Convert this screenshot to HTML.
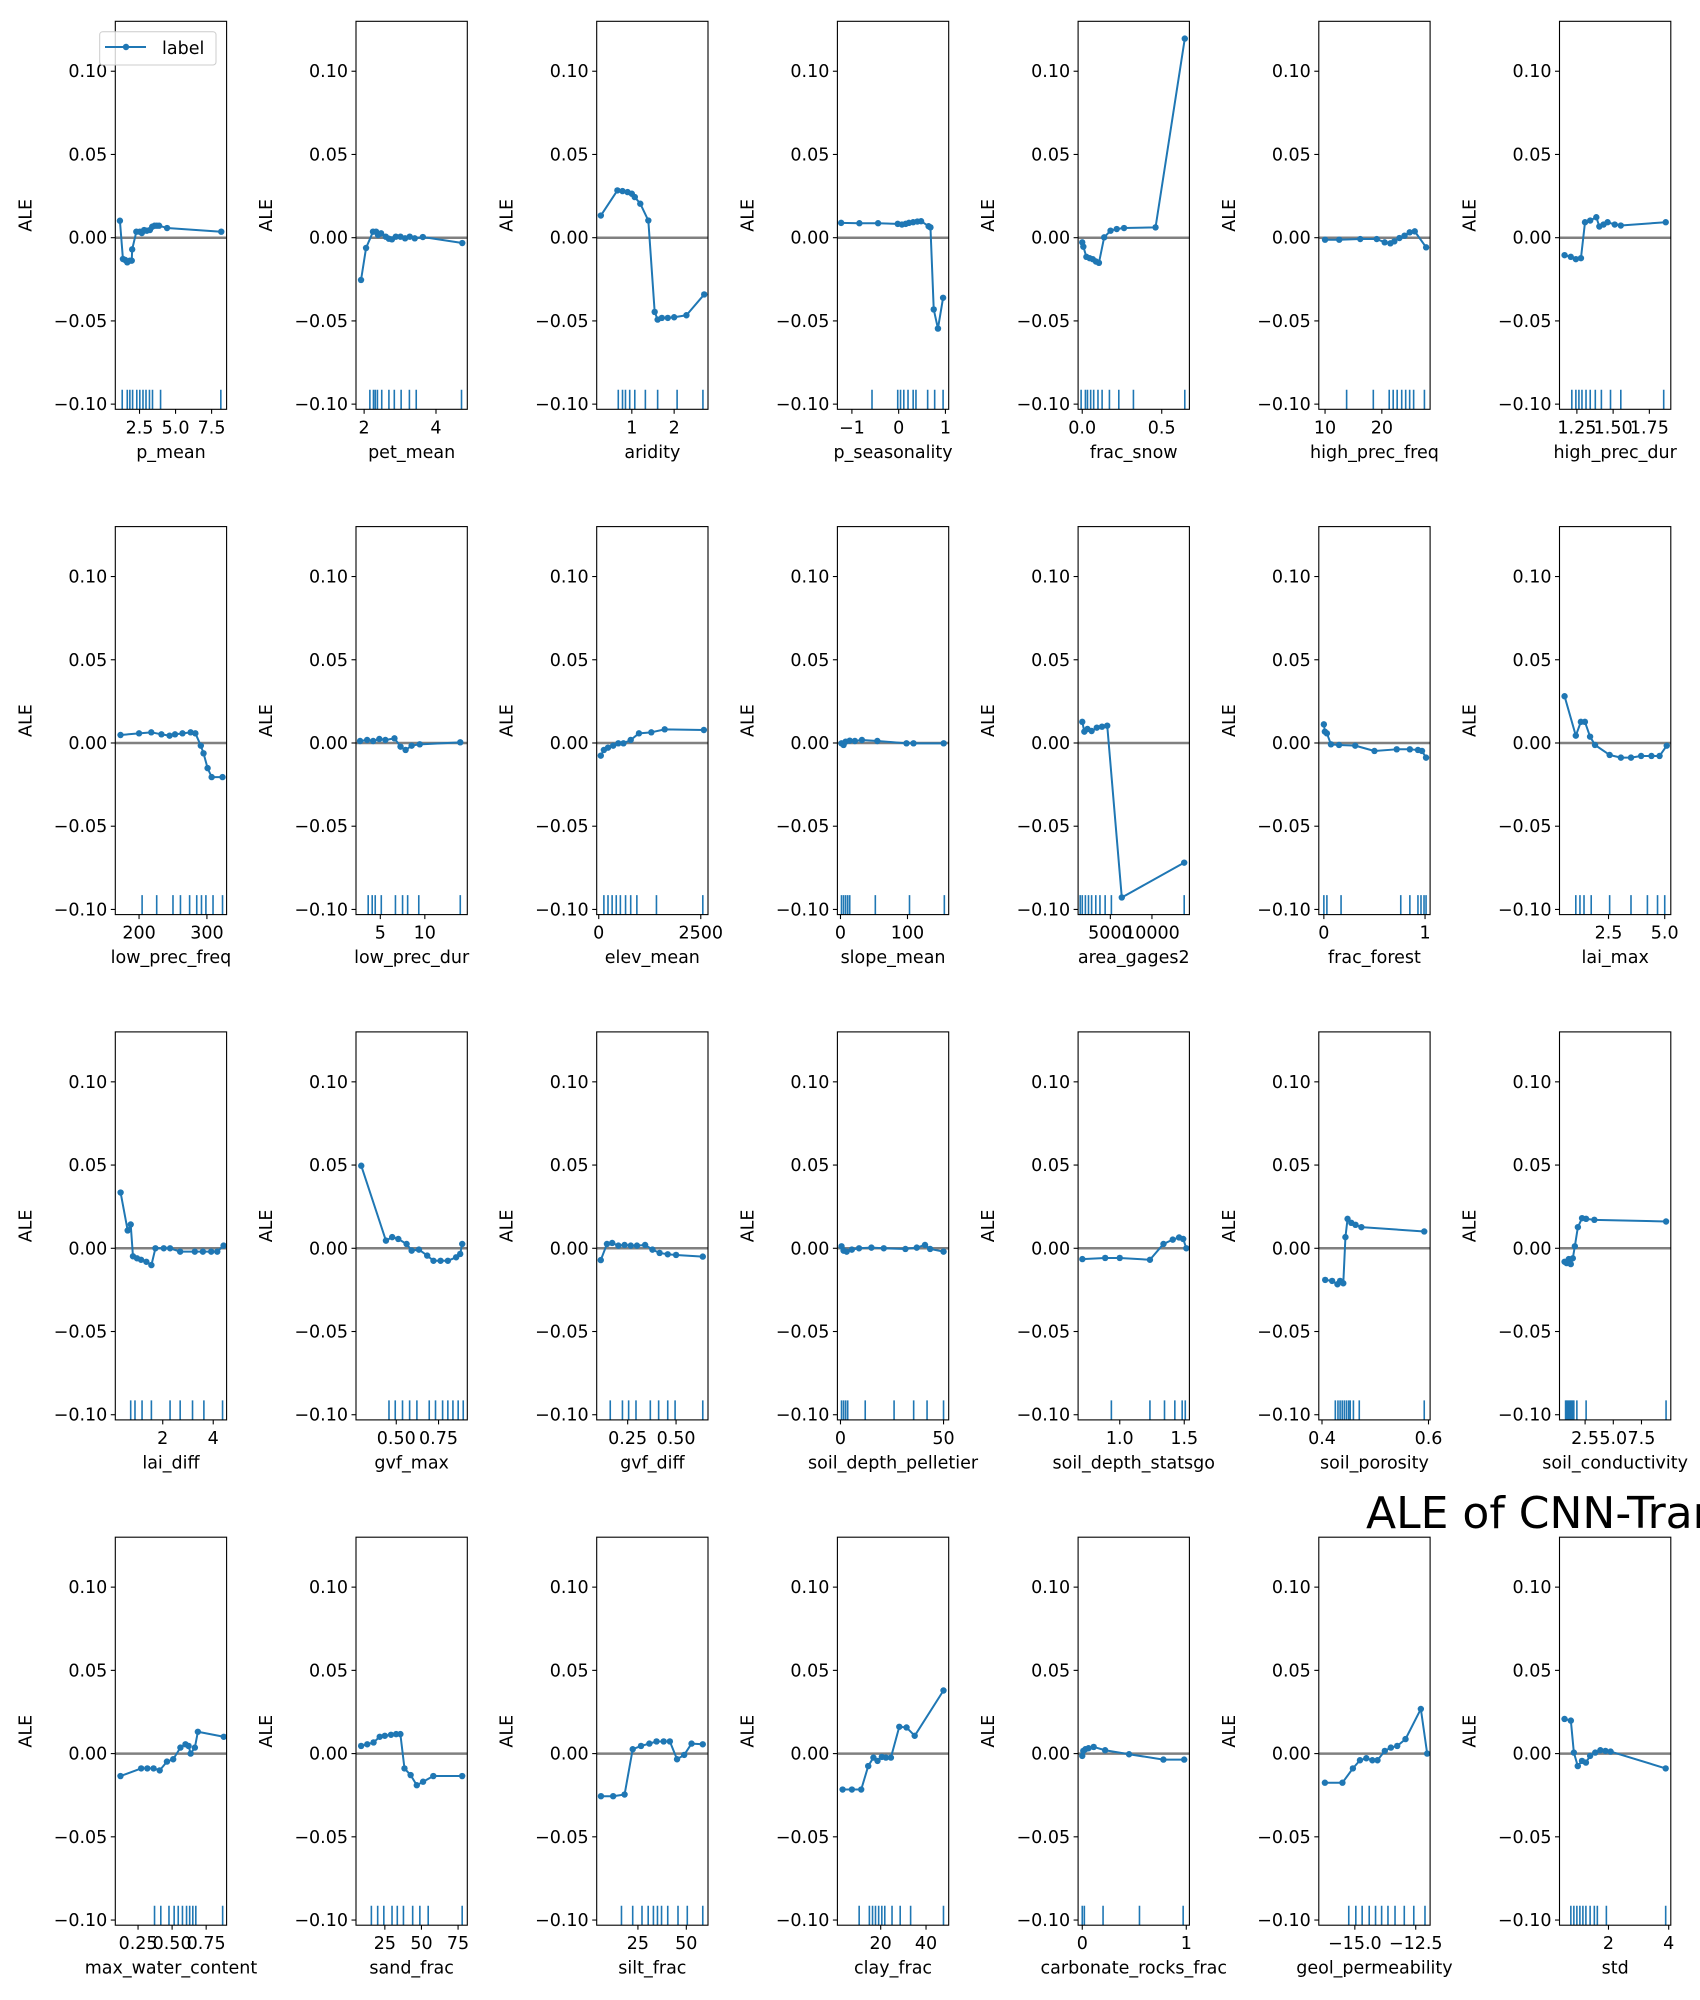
<!DOCTYPE html>
<html><head><meta charset="utf-8"><style>
html,body{margin:0;padding:0;background:#fff;}
svg{display:block;font-family:"DejaVu Sans","Liberation Sans",sans-serif;}
</style></head><body>
<svg id="fig" width="1700" height="2000" viewBox="0 0 1700 2000" xmlns="http://www.w3.org/2000/svg"></svg>
<script>
const featureNames=["p_mean","pet_mean","aridity","p_seasonality","frac_snow","high_prec_freq","high_prec_dur",
"low_prec_freq","low_prec_dur","elev_mean","slope_mean","area_gages2","frac_forest","lai_max",
"lai_diff","gvf_max","gvf_diff","soil_depth_pelletier","soil_depth_statsgo","soil_porosity","soil_conductivity",
"max_water_content","sand_frac","silt_frac","clay_frac","carbonate_rocks_frac","geol_permeability","std"];
const xLims=[[0.82,8.54],[1.774,4.871],[0.17,2.80],[-1.31,1.07],[-0.026,0.674],[8.9,28.5],[1.13,1.898],
[165,329],[2.27,14.77],[-50,2677],[-4.6,161.5],[1125,14500],[-0.05,1.05],[0.32,5.27],
[0.12,4.53],[0.262,0.92],[0.09,0.665],[-1.5,52.5],[0.677,1.54],[0.394,0.603],[0.23,10.1],
[0.083,0.90],[5.3,81.3],[3.7,61.2],[0.9,50],[-0.04,1.03],[-16.48,-11.91],[0.373,4.07]];
const xValues=[
[1.14,1.35,1.51,1.65,1.83,1.96,1.99,2.28,2.52,2.66,2.82,3.0,3.22,3.38,3.54,3.7,3.86,4.41,8.17],
[1.914,2.054,2.247,2.333,2.387,2.473,2.602,2.688,2.774,2.882,3.011,3.14,3.269,3.409,3.634,4.731],
[0.268,0.659,0.78,0.90,1.0,1.07,1.20,1.39,1.54,1.61,1.71,1.85,2.0,2.29,2.71],
[-1.23,-0.84,-0.44,-0.02,0.07,0.15,0.22,0.31,0.4,0.48,0.64,0.68,0.75,0.84,0.95],
[0,0.007,0.026,0.046,0.066,0.086,0.105,0.138,0.178,0.217,0.263,0.461,0.645],
[10,12.5,16.2,19.1,20.5,21.5,22.2,23.1,24,24.9,25.8,27.8],
[1.165,1.208,1.243,1.278,1.306,1.342,1.384,1.405,1.434,1.462,1.511,1.553,1.863],
[172.7,200,218,233,245,253,264,276,283,291,295,301,307,323],
[2.73,3.52,4.2,4.89,5.57,6.59,7.27,7.84,8.52,9.43,13.98],
[50,126,227,354,480,606,783,985,1288,1616,2576],
[1.5,4.6,7.7,13.8,21.5,32,55,98.5,109,154],
[1625,1875,2250,2750,3375,4000,4625,6375,13875],
[0,0.01,0.03,0.07,0.15,0.31,0.5,0.72,0.85,0.93,0.97,1.01],
[0.545,1.045,1.27,1.45,1.68,1.9,2.55,3.05,3.5,3.95,4.41,4.77,5.09],
[0.33,0.61,0.73,0.82,0.98,1.14,1.35,1.55,1.71,2.04,2.29,2.69,3.27,3.59,3.92,4.16,4.41],
[0.293,0.439,0.476,0.512,0.561,0.591,0.634,0.683,0.72,0.762,0.805,0.854,0.878,0.89],
[0.111,0.143,0.17,0.202,0.234,0.266,0.298,0.34,0.378,0.415,0.457,0.5,0.638],
[0.5,1.5,3,5.5,9,15,21,31.5,37,41,43.5,50],
[0.71,0.887,1.0,1.234,1.339,1.411,1.46,1.492,1.516],
[0.406,0.419,0.429,0.434,0.44,0.444,0.448,0.455,0.463,0.474,0.592],
[0.68,0.86,1.05,1.23,1.41,1.59,1.86,2.23,2.59,3.32,9.68],
[0.121,0.273,0.318,0.364,0.409,0.462,0.508,0.561,0.598,0.621,0.636,0.667,0.689,0.879],
[8.8,13,17.3,21.5,25,29.2,32.7,35.6,38.4,42.6,46.8,51.1,58.1,77.8],
[5.9,12.2,18.1,22.3,26.6,30.9,34.6,38.3,41.5,45.2,48.9,52.7,58.5],
[3.2,7.3,11.4,14.5,16.8,18.6,20.5,22.3,24.5,28.2,31.4,35,47.7],
[0,0.01,0.03,0.06,0.11,0.22,0.45,0.78,0.98],
[-16.23,-15.51,-15.08,-14.79,-14.53,-14.28,-14.07,-13.77,-13.52,-13.26,-12.92,-12.29,-12.03],
[0.54,0.75,0.85,0.98,1.12,1.25,1.39,1.56,1.73,1.9,2.07,3.9]];
const aleValues=[
[.0102,-.0128,-.0134,-.0148,-.0138,-.0138,-.007,.0036,.0036,.0028,.0046,.0042,.0046,.0066,.0072,.0072,.0072,.0058,.0036],
[-.0254,-.0062,.0036,.0036,.0016,.0026,.0006,-.0006,-.001,.0006,.0006,-.0004,.0006,-.0004,.0004,-.0032],
[.0133,.0284,.028,.0274,.0264,.0244,.0204,.0103,-.0446,-.0492,-.0482,-.0482,-.0478,-.0466,-.0341],
[.0089,.0087,.0087,.0083,.0079,.0083,.0089,.0093,.0097,.0099,.0069,.0062,-.0431,-.0546,-.0361],
[-.0028,-.0054,-.0115,-.0123,-.0129,-.0143,-.0151,.0002,.0042,.0052,.0058,.0062,.1196],
[-.0012,-.0012,-.0008,-.0008,-.0028,-.0034,-.0022,-.0002,.0012,.0032,.0038,-.0058],
[-.0105,-.0115,-.0129,-.0123,.0093,.0103,.0123,.0067,.0079,.0093,.0079,.0073,.0093],
[.0048,.0058,.0064,.0052,.0044,.0052,.0058,.0064,.0058,-.0016,-.0062,-.0151,-.0205,-.0205],
[.0012,.0018,.0012,.0024,.0018,.0028,-.0022,-.0042,-.0016,-.0008,.0004],
[-.0076,-.0042,-.0028,-.0016,-.0002,-.0002,.0018,.0058,.0064,.0082,.0078],
[-.0002,-.0012,.0008,.0014,.0012,.0018,.0012,-.0002,-.0002,-.0002],
[.0127,.0068,.0084,.0072,.0092,.0098,.0104,-.0928,-.0719],
[.0112,.0068,.0058,-.0008,-.0012,-.0016,-.0048,-.0038,-.0038,-.0042,-.0048,-.0088],
[.0281,.0044,.0127,.0127,.0038,-.0012,-.0072,-.0088,-.0088,-.0078,-.0078,-.0078,-.0016],
[.0335,.0107,.0143,-.0048,-.006,-.0069,-.0081,-.0101,0,0,0,-.002,-.002,-.002,-.002,-.002,.0016],
[.0496,.0046,.0067,.0056,.0026,-.0014,-.0008,-.0044,-.0075,-.0075,-.0075,-.0054,-.0034,.0026],
[-.0071,.0026,.0032,.0016,.002,.0016,.0016,.002,-.0008,-.0028,-.0036,-.004,-.005],
[.0012,-.0014,-.002,-.0008,0,.0004,0,-.0004,.0004,.002,-.0004,-.002],
[-.0065,-.0058,-.0058,-.0069,.0026,.0052,.0065,.0056,0],
[-.019,-.0196,-.0216,-.0196,-.021,.0067,.0177,.0153,.0141,.0127,.0101],
[-.0081,-.0089,-.0065,-.0095,-.006,.0012,.0127,.0181,.0177,.0171,.0161],
[-.0135,-.0089,-.0089,-.0089,-.0101,-.0048,-.0034,.0036,.0056,.0046,0,.0036,.0131,.0101],
[.0046,.0056,.0067,.0101,.0107,.0113,.0117,.0117,-.0089,-.0129,-.019,-.0169,-.0135,-.0135],
[-.0256,-.0256,-.0246,.0026,.0046,.006,.0073,.0073,.0073,-.0034,-.0008,.006,.0056],
[-.0216,-.0216,-.0216,-.0075,-.0024,-.0044,-.002,-.0024,-.0024,.0161,.0157,.0107,.0379],
[-.0014,.0016,.0026,.0032,.004,.002,-.0004,-.0036,-.0036],
[-.0175,-.0175,-.0089,-.004,-.0028,-.004,-.004,.0016,.0036,.0046,.0087,.0268,0],
[.0208,.0198,.0006,-.0075,-.0044,-.0054,-.0014,.0006,.002,.0016,.0012,-.0089]];
const rugValues=[
[1.3,1.65,1.83,2.02,2.31,2.52,2.74,2.95,3.19,3.4,3.96,8.14],
[2.16,2.26,2.31,2.37,2.49,2.69,2.84,3.03,3.26,3.45,4.71],
[0.68,0.78,0.85,0.95,1.07,1.32,1.61,2.07,2.68],
[-0.57,-0.02,0.04,0.11,0.2,0.31,0.37,0.62,0.77,0.95],
[-0.007,0.02,0.033,0.053,0.072,0.099,0.125,0.171,0.23,0.322,0.645],
[13.8,18.5,21.3,22,22.7,23.5,24.2,24.9,25.6,27.5],
[1.215,1.243,1.264,1.285,1.313,1.342,1.377,1.419,1.482,1.553,1.849],
[204.5,226,250,261,274.5,285,292,298.5,309,323],
[3.64,4.09,4.43,5.11,6.7,7.5,8.07,9.32,13.98],
[126,227,328,429,530,657,783,934,1414,2550],
[1.5,4.6,7.7,10.8,13.8,52,103,155],
[1375,1625,2000,2375,2750,3250,3750,4375,5125,13875],
[0,0.03,0.17,0.76,0.85,0.93,0.96,0.99,1.01],
[1.045,1.23,1.41,1.73,2.55,3.5,4.23,4.68,5.0],
[0.73,0.9,1.18,1.55,2.29,2.69,3.18,3.63,4.37],
[.457,.494,.537,.579,.622,.695,.732,.774,.805,.835,.866,.896],
[.16,.223,.255,.293,.367,.41,.457,.495,.638],
[.5,1.5,2.5,3.5,12,26,35.5,42,50],
[.935,1.234,1.347,1.427,1.484,1.508],
[.425,.43,.434,.438,.442,.446,.45,.453,.459,.47,.592],
[.77,.86,.95,1.05,1.14,1.23,1.32,1.41,1.5,1.77,2.59,9.68],
[.371,.417,.477,.515,.545,.576,.606,.629,.652,.674,.871],
[15.8,20.1,24.3,29.9,33.5,37.7,44,48.9,54.6,77.8],
[16.5,22.3,27.1,30.3,33,35.1,37.2,40.4,45.7,50.5,58.5],
[10.5,15,16.4,17.7,19.1,20.5,21.8,25,28.6,33.2,47.7],
[0,.02,.2,.55,.97],
[-15.25,-14.96,-14.7,-14.41,-14.15,-13.9,-13.64,-13.35,-12.97,-12.58,-12.12],
[.75,.85,.95,1.05,1.15,1.25,1.39,1.53,1.63,1.93,3.9]];
const xTicks=[[2.5,5,7.5],[2,4],[1,2],[-1,0,1],[0,0.5],[10,20],[1.25,1.5,1.75],
[200,300],[5,10],[0,2500],[0,100],[5000,10000],[0,1],[2.5,5],
[2,4],[0.5,0.75],[0.25,0.5],[0,50],[1,1.5],[0.4,0.6],[2.5,5,7.5],
[0.25,0.5,0.75],[25,50,75],[25,50],[20,40],[0,1],[-15,-12.5],[2,4]];
const xTickLabels=[["2.5","5.0","7.5"],["2","4"],["1","2"],["−1","0","1"],["0.0","0.5"],["10","20"],["1.25","1.50","1.75"],
["200","300"],["5","10"],["0","2500"],["0","100"],["5000","10000"],["0","1"],["2.5","5.0"],
["2","4"],["0.50","0.75"],["0.25","0.50"],["0","50"],["1.0","1.5"],["0.4","0.6"],["2.5","5.0","7.5"],
["0.25","0.50","0.75"],["25","50","75"],["25","50"],["20","40"],["0","1"],["−15.0","−12.5"],["2","4"]];
const yTicks=[0.10,0.05,0.00,-0.05,-0.10];
const yTickLabels=["0.10","0.05","0.00","−0.05","−0.10"];
const yLim=[-0.1031,0.130];

const NS="http://www.w3.org/2000/svg";
const svg=document.getElementById('fig');
function mk(tag,attrs,parent){const e=document.createElementNS(NS,tag);for(const k in attrs)e.setAttribute(k,attrs[k]);(parent||svg).appendChild(e);return e;}
const W=111.3,H=388,X0=115.3,DX=240.7,Y0=21.3,DY=505.3,BLUE="#1f77b4";

featureNames.forEach((name,i)=>{
  const c=i%7,r=Math.floor(i/7);
  const L=X0+c*DX,T=Y0+r*DY,B=T+H,R=L+W;
  const xs=v=>L+(v-xLims[i][0])/(xLims[i][1]-xLims[i][0])*W;
  const ys=v=>B-(v-yLim[0])/(yLim[1]-yLim[0])*H;
  const g=mk('g',{});
  
  
  const clipId='clip'+i;
  const cp=mk('clipPath',{id:clipId},g);mk('rect',{x:L,y:T,width:W,height:H},cp);
  const z=mk('line',{x1:L,x2:R,y1:ys(0),y2:ys(0),stroke:'#808080','stroke-width':2.5},g);
  
  
  const rg=mk('g',{'clip-path':'url(#'+clipId+')'},g);
  
  
  rugValues[i].forEach(v=>{mk('line',{x1:xs(v),x2:xs(v),y1:B,y2:B-19.5,stroke:BLUE,'stroke-width':1.6},rg);});
  const pts=xValues[i].map((x,j)=>xs(x).toFixed(2)+','+ys(aleValues[i][j]).toFixed(2)).join(' ');
  const pl=mk('polyline',{points:pts,fill:'none',stroke:BLUE,'stroke-width':2,'stroke-linejoin':'round','clip-path':'url(#'+clipId+')'},g);
  
  
  xValues[i].forEach((x,j)=>{
    const m=mk('circle',{cx:xs(x),cy:ys(aleValues[i][j]),r:3.2,fill:BLUE},g);
    
    
  });
  const fr=mk('rect',{x:L,y:T,width:W,height:H,fill:'none',stroke:'#000','stroke-width':1.1},g);
  
  
  yTicks.forEach((v,k)=>{
    const y=ys(v);
    mk('line',{x1:L-4.5,x2:L,y1:y,y2:y,stroke:'#000','stroke-width':1.1},g);
    const t=mk('text',{x:L-8,y:y+6,'text-anchor':'end','font-size':17.5,fill:'#000'},g);
    t.textContent=yTickLabels[k];
    
    
  });
  xTicks[i].forEach((v,k)=>{
    const x=xs(v);
    mk('line',{x1:x,x2:x,y1:B,y2:B+4.5,stroke:'#000','stroke-width':1.1},g);
    const t=mk('text',{x:x,y:B+24,'text-anchor':'middle','font-size':17.5,fill:'#000'},g);
    t.textContent=xTickLabels[i][k];
    
    
  });
  const xl=mk('text',{x:L+W/2,y:B+48.5,'text-anchor':'middle','font-size':17.5,fill:'#000'},g);
  xl.textContent=name;
  
  
  const yc=T+H/2;
  const yl=mk('text',{x:L-84,y:yc,'text-anchor':'middle','font-size':17.5,fill:'#000',transform:'rotate(-90 '+(L-84)+' '+yc+')'},g);
  yl.textContent='ALE';
  
  
});

const lg=mk('g',{});


mk('rect',{x:99.7,y:31.7,width:116.3,height:33.3,rx:3,fill:'#fff','fill-opacity':0.8,stroke:'#cccccc','stroke-width':1},lg);
mk('line',{x1:105,x2:146,y1:47,y2:47,stroke:BLUE,'stroke-width':2},lg);
mk('circle',{cx:126,cy:47,r:3.2,fill:BLUE},lg);
const lt=mk('text',{x:162,y:54,'font-size':17.5,fill:'#000'},lg);
lt.textContent='label';



const title=mk('text',{x:1366,y:1528,'font-size':44,fill:'#000'});
title.textContent='ALE of CNN-Transformer';


</script>
</body></html>
